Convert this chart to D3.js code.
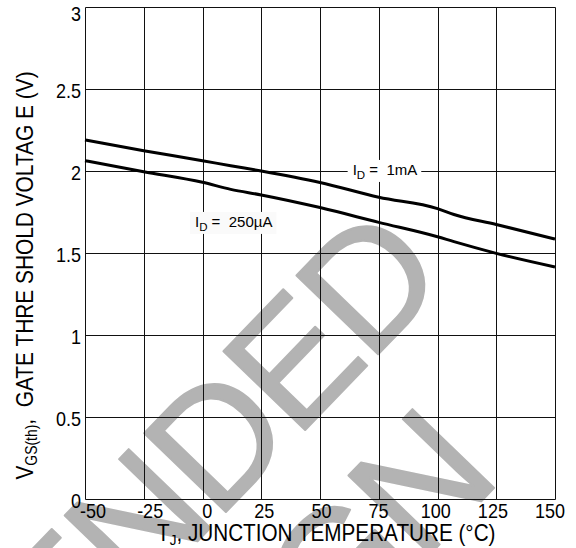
<!DOCTYPE html>
<html><head><meta charset="utf-8">
<script src="https://cdn.jsdelivr.net/npm/d3@7"></script>
<style>html,body{margin:0;padding:0;background:#fff;} svg{display:block;}</style>
</head><body><svg id="chart" width="576" height="548"></svg>
<script>
// ---- data ----
const temperatureC = [-50, -25, 0, 12, 25, 50, 75, 100, 107, 125, 150];
const vgsth_1mA   = [2.189, 2.124, 2.063, 2.032, 2.000, 1.930, 1.840, 1.771, 1.735, 1.674, 1.585];
const vgsth_250uA = [2.063, 1.996, 1.931, 1.888, 1.854, 1.777, 1.687, 1.599, 1.569, 1.498, 1.415];
const xTicks = [-50, -25, 0, 25, 50, 75, 100, 125, 150];
const xTickLabels = ["-50", "-25", "0", "25", "50", "75", "100", "125", "150"];
const yTicks = [0, 0.5, 1, 1.5, 2, 2.5, 3];
const yTickLabels = ["0", "0.5", "1", "1.5", "2", "2.5", "3"];
const seriesNames = ["1mA", "250\u00b5A"];
const watermarkLines = ["NOT RECOMMENDED", "FOR NEW DESIGN"];

// ---- setup ----
const FONT = "'Liberation Sans', Arial, Helvetica, sans-serif";
const svg = d3.select("#chart").style("font-family", FONT);
svg.append("rect").attr("width", 576).attr("height", 548).attr("fill", "#fff");

const x = d3.scaleLinear().domain([-50, 150]).range([85, 555]);
const y = d3.scaleLinear().domain([0, 3]).range([499, 7]);
const xLab = d3.scaleLinear().domain([-50, 150]).range([93, 550]);
const px = v => Math.round(v) + 0.5;

// ---- watermark ----
const wm = svg.append("g")
  .attr("fill", "#b3b3b3").attr("stroke", "#b3b3b3").attr("stroke-width", 2)
  .attr("stroke-linejoin", "round")
  .style("font-size", "165px").style("letter-spacing", "-5px");
wm.append("text").attr("text-anchor", "end")
  .attr("transform", "translate(448,282) rotate(-46)").text(watermarkLines[0]);
wm.append("text").attr("text-anchor", "end")
  .attr("transform", "translate(500,482) rotate(-46)").text(watermarkLines[1]);

// ---- grid ----
const grid = svg.append("g").attr("stroke", "#111").attr("stroke-width", 1);
grid.selectAll("line.v").data(xTicks).join("line").attr("class", "v")
  .attr("x1", d => px(x(d))).attr("x2", d => px(x(d)))
  .attr("y1", px(y(3))).attr("y2", px(y(0)));
grid.selectAll("line.h").data(yTicks).join("line").attr("class", "h")
  .attr("y1", d => px(y(d))).attr("y2", d => px(y(d)))
  .attr("x1", px(x(-50))).attr("x2", px(x(150)));

// ---- curves ----
const line = d3.line()
  .x((d, i) => x(temperatureC[i]))
  .y(d => y(d))
  .curve(d3.curveMonotoneX);
svg.append("g").selectAll("path").data([vgsth_1mA, vgsth_250uA]).join("path")
  .attr("d", line).attr("fill", "none").attr("stroke", "#000")
  .attr("stroke-width", 3).attr("stroke-linejoin", "round");

// ---- series labels ----
function seriesLabel(name, tx, vy, boxFill) {
  const g = svg.append("g");
  const t = g.append("text").attr("x", x(tx)).attr("y", y(vy))
    .style("font-size", "15px").attr("fill", "#000");
  t.append("tspan").text("I");
  t.append("tspan").attr("dy", 4).style("font-size", "11.5px").text("D");
  t.append("tspan").attr("dy", -4).text("\u00a0=\u00a0\u00a0" + name);
  const b = t.node().getBBox();
  g.insert("rect", "text")
    .attr("x", b.x - 5).attr("y", b.y - 1)
    .attr("width", b.width + 9).attr("height", b.height + 2)
    .attr("fill", boxFill);
}
seriesLabel(seriesNames[0], 63.9, 1.976, "#fff");
seriesLabel(seriesNames[1], -3.2, 1.659, "#fafafa");

// ---- tick labels ----
svg.append("g").selectAll("text").data(xTicks).join("text")
  .attr("transform", d => `translate(${xLab(d)},518) scale(0.9,1)`)
  .attr("text-anchor", "middle").style("font-size", "20px")
  .text((d, i) => xTickLabels[i]);
svg.append("g").selectAll("text").data(yTicks).join("text")
  .attr("transform", d => `translate(81,${Math.max(y(d) + 8.5, 21)}) scale(0.9,1)`)
  .attr("text-anchor", "end").style("font-size", "20px")
  .text((d, i) => yTickLabels[i]);

// ---- axis titles ----
const xt = svg.append("text")
  .attr("transform", "translate(157,541) scale(0.9,1)")
  .style("font-size", "23px");
xt.append("tspan").text("T");
xt.append("tspan").attr("dy", 4).style("font-size", "15px").text("J");
xt.append("tspan").attr("dy", -4).text(", JUNCTION TEMPERATURE (\u00b0C)");

const yt = svg.append("text")
  .attr("transform", "translate(33,275.5) rotate(-90) scale(0.87,1)")
  .attr("text-anchor", "middle").style("font-size", "24px");
yt.append("tspan").text("V");
yt.append("tspan").attr("dy", 4).style("font-size", "16px").text("GS(th)");
yt.append("tspan").attr("dy", -4).text(",\u00a0\u00a0GATE THRE SHOLD VOLTAG E (V)");
</script>
</body></html>
